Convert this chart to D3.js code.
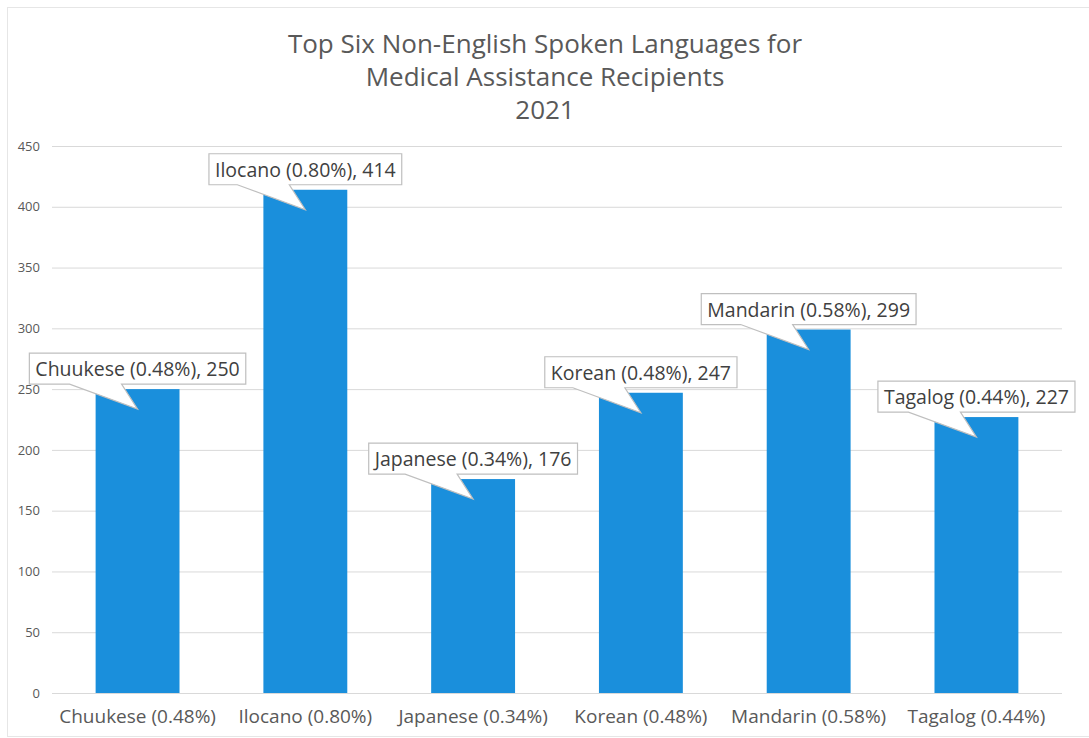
<!doctype html>
<html lang="en">
<head>
  <meta charset="utf-8">
  <title>Top Six Non-English Spoken Languages</title>
  <style>
    html, body { margin:0; padding:0; background:#fff; }
    svg { display:block; font-family:"Open Sans", sans-serif; }
  </style>
</head>
<body>
  <div id="chart"></div>

<script src="https://cdn.jsdelivr.net/npm/d3@7/dist/d3.min.js"></script>
<script>
// data
var languages = ["Chuukese", "Ilocano", "Japanese", "Korean", "Mandarin", "Tagalog"];
var shares = ["0.48%", "0.80%", "0.34%", "0.48%", "0.58%", "0.44%"];
var counts = [250, 414, 176, 247, 299, 227];
var yTicks = [0, 50, 100, 150, 200, 250, 300, 350, 400, 450];
var titleLines = ["Top Six Non-English Spoken Languages for", "Medical Assistance Recipients", "2021"];

var W = 1089, H = 738;
var plot = { left: 52, right: 1062, top: 146, bottom: 693 };

var svg = d3.select("#chart").append("svg")
    .attr("width", W)
    .attr("height", H);

// faint outer frame of the chart area
svg.append("rect")
    .attr("x", 7.5).attr("y", 7.5)
    .attr("width", W - 6).attr("height", H - 9)
    .attr("fill", "none")
    .attr("stroke", "#e6e6e6");

var x = d3.scaleBand()
    .domain(languages)
    .range([plot.left, plot.right])
    .paddingInner(0.5)
    .paddingOuter(0.26);

var y = d3.scaleLinear()
    .domain([0, 450])
    .range([plot.bottom, plot.top]);

// title
svg.append("text")
    .attr("text-anchor", "middle")
    .attr("fill", "#595959")
    .style("font-size", "26px")
    .selectAll("tspan")
    .data(titleLines)
    .join("tspan")
    .attr("x", 545)
    .attr("y", function (d, i) { return 53 + i * 33; })
    .text(function (d) { return d; });

// y axis with gridlines
var yAxis = svg.append("g")
    .attr("transform", "translate(" + plot.left + ",0)")
    .call(d3.axisLeft(y).tickValues(yTicks).tickSize(-(plot.right - plot.left)).tickPadding(12));

yAxis.select(".domain").remove();
yAxis.selectAll(".tick line").attr("stroke", "#d9d9d9");
yAxis.selectAll(".tick text")
    .attr("fill", "#595959")
    .style("font-size", "13px")
    .style("font-family", "'Open Sans', sans-serif");

// x axis labels
var xAxis = svg.append("g")
    .attr("transform", "translate(0," + plot.bottom + ")")
    .call(d3.axisBottom(x).tickSize(0).tickPadding(17)
        .tickFormat(function (d, i) { return d + " (" + shares[i] + ")"; }));

xAxis.select(".domain").remove();
xAxis.selectAll(".tick text")
    .attr("fill", "#595959")
    .style("font-size", "19px")
    .style("font-family", "'Open Sans', sans-serif");

// bars
svg.append("g").selectAll("rect")
    .data(counts)
    .join("rect")
    .attr("x", function (d, i) { return x(languages[i]); })
    .attr("y", function (d) { return y(d); })
    .attr("width", x.bandwidth())
    .attr("height", function (d) { return y(0) - y(d); })
    .attr("fill", "#1a8fdc");

// callout labels
var callouts = svg.append("g").selectAll("g")
    .data(counts)
    .join("g");

callouts.each(function (d, i) {
    var g = d3.select(this);
    var cx = x(languages[i]) + x.bandwidth() / 2;
    var top = y(d);

    var path = g.append("path");
    var txt = g.append("text")
        .attr("fill", "#404040")
        .style("font-size", "19.5px")
        .text(languages[i] + " (" + shares[i] + "), " + d);

    var tw = txt.node().getComputedTextLength();
    var bw = tw + 12, bh = 31;
    var bx = cx - bw / 2;
    if (bx + bw > W - 2) bx = W - 2 - bw;
    var by = top - 5 - bh;
    var bc = bx + bw / 2;

    txt.attr("x", bx + 6).attr("y", by + 23);

    var tipX = cx, tipY = top + 20;
    var b1 = bc - 68, b2 = bc - 16;
    path.attr("d",
        "M" + bx + "," + by +
        "H" + (bx + bw) +
        "V" + (by + bh) +
        "H" + b2 +
        "L" + tipX + "," + tipY +
        "L" + b1 + "," + (by + bh) +
        "H" + bx + "Z")
        .attr("fill", "#fff")
        .attr("stroke", "#bfbfbf")
        .attr("stroke-width", 1.2);
});
</script>
</body>
</html>
